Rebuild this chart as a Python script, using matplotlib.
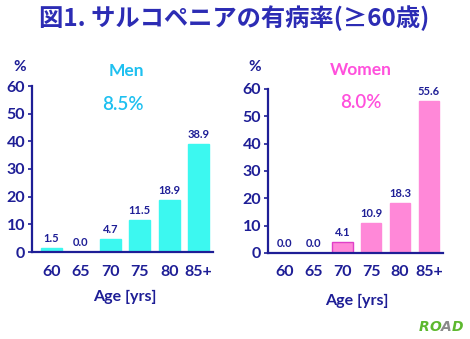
import matplotlib
matplotlib.use("Agg")
import matplotlib.pyplot as plt

ages = ["60", "65", "70", "75", "80", "85+"]
men = [1.5, 0.0, 4.7, 11.5, 18.9, 38.9]
women = [0.0, 0.0, 4.1, 10.9, 18.3, 55.6]
men_total = "8.5%"
women_total = "8.0%"
title = "図1. サルコペニアの有病率(≥60歳)"
yticks = [0, 10, 20, 30, 40, 50, 60]

W, H = 470, 339
fig = plt.figure(figsize=(W / 100, H / 100), dpi=100)
fig.patch.set_facecolor("white")

NAVY = "#1E1E96"
FONT = ["Lato", "DejaVu Sans"]

def fx(px):
    return px / W

def fy(py):
    return 1 - py / H

def panel(rect, values, xlim, bar_color, edge_colors):
    ax = fig.add_axes(rect)
    x = list(range(len(values)))
    ax.bar(x, values, width=0.71, color=bar_color, edgecolor=edge_colors, linewidth=1.0)
    ax.set_xlim(*xlim)
    ax.set_ylim(0, 60)
    ax.set_yticks(yticks)
    ax.set_yticklabels([str(t) for t in yticks], fontsize=11.5, fontweight="bold",
                       color=NAVY, family=FONT)
    ax.set_xticks(x)
    ax.set_xticklabels(ages, fontsize=11.5, fontweight="bold", color=NAVY, family=FONT)
    ax.tick_params(axis="x", length=0, pad=9)
    ax.tick_params(axis="y", length=3, width=1.2, color=NAVY, pad=2)
    for s in ["top", "right"]:
        ax.spines[s].set_visible(False)
    for s in ["left", "bottom"]:
        ax.spines[s].set_color(NAVY)
        ax.spines[s].set_linewidth(1.6)
    ax.patch.set_alpha(0)
    for xi, v in zip(x, values):
        ax.annotate(f"{v:.1f}", (xi, v), xytext=(0, 3), textcoords="offset points",
                    ha="center", va="bottom", fontsize=8, fontweight="bold",
                    color=NAVY, family=FONT)
    return ax

panel([fx(32), fy(252), fx(181), 166 / H], men, (-0.663, 5.49), "#3CF8F0",
      ["#3CF8F0"] * 6)
wedges = ["#FF88D8", "#FF88D8", "#E040C8", "#FF88D8", "#FF88D8", "#FF88D8"]
panel([fx(268), fy(253), fx(175), 164 / H], women, (-0.583, 5.49), "#FF88D8",
      wedges)

fig.text(fx(234), fy(18), title, ha="center", va="center", fontsize=17.5,
         fontweight="bold", color="#2C2CB4",
         family=["Noto Sans CJK JP", "DejaVu Sans"])

for px in (20, 255):
    fig.text(fx(px), fy(67), "%", ha="center", va="center", fontsize=11,
             fontweight="bold", color=NAVY, family=FONT)

fig.text(fx(126), fy(71), "Men", ha="center", va="center", fontsize=12.5,
         fontweight="bold", color="#1EC0F0", family=FONT)
fig.text(fx(123), fy(104), men_total, ha="center", va="center", fontsize=13.5,
         fontweight="semibold", color="#1EC0F0", family=FONT)
fig.text(fx(361), fy(70), "Women", ha="center", va="center", fontsize=12.5,
         fontweight="bold", color="#FF50DC", family=FONT)
fig.text(fx(361), fy(103), women_total, ha="center", va="center", fontsize=13.5,
         fontweight="semibold", color="#FF50DC", family=FONT)

fig.text(fx(125), fy(297), "Age [yrs]", ha="center", va="center", fontsize=11.5,
         fontweight="bold", color=NAVY, family=FONT)
fig.text(fx(357), fy(301), "Age [yrs]", ha="center", va="center", fontsize=11.5,
         fontweight="bold", color=NAVY, family=FONT)

# ROAD logo
fig.canvas.draw()
renderer = fig.canvas.get_renderer()
logo = [("R", "#5DB82E"), ("O", "#5DB82E"), ("A", "#8A8A8A"), ("D", "#5DB82E")]
lx = 419
for ch, c in logo:
    t = fig.text(fx(lx), fy(327), ch, ha="left", va="center", fontsize=10,
                 fontweight="bold", style="italic", color=c, family=["DejaVu Sans"])
    bb = t.get_window_extent(renderer)
    lx += bb.width

fig.savefig("out.png", dpi=100, facecolor="white")
